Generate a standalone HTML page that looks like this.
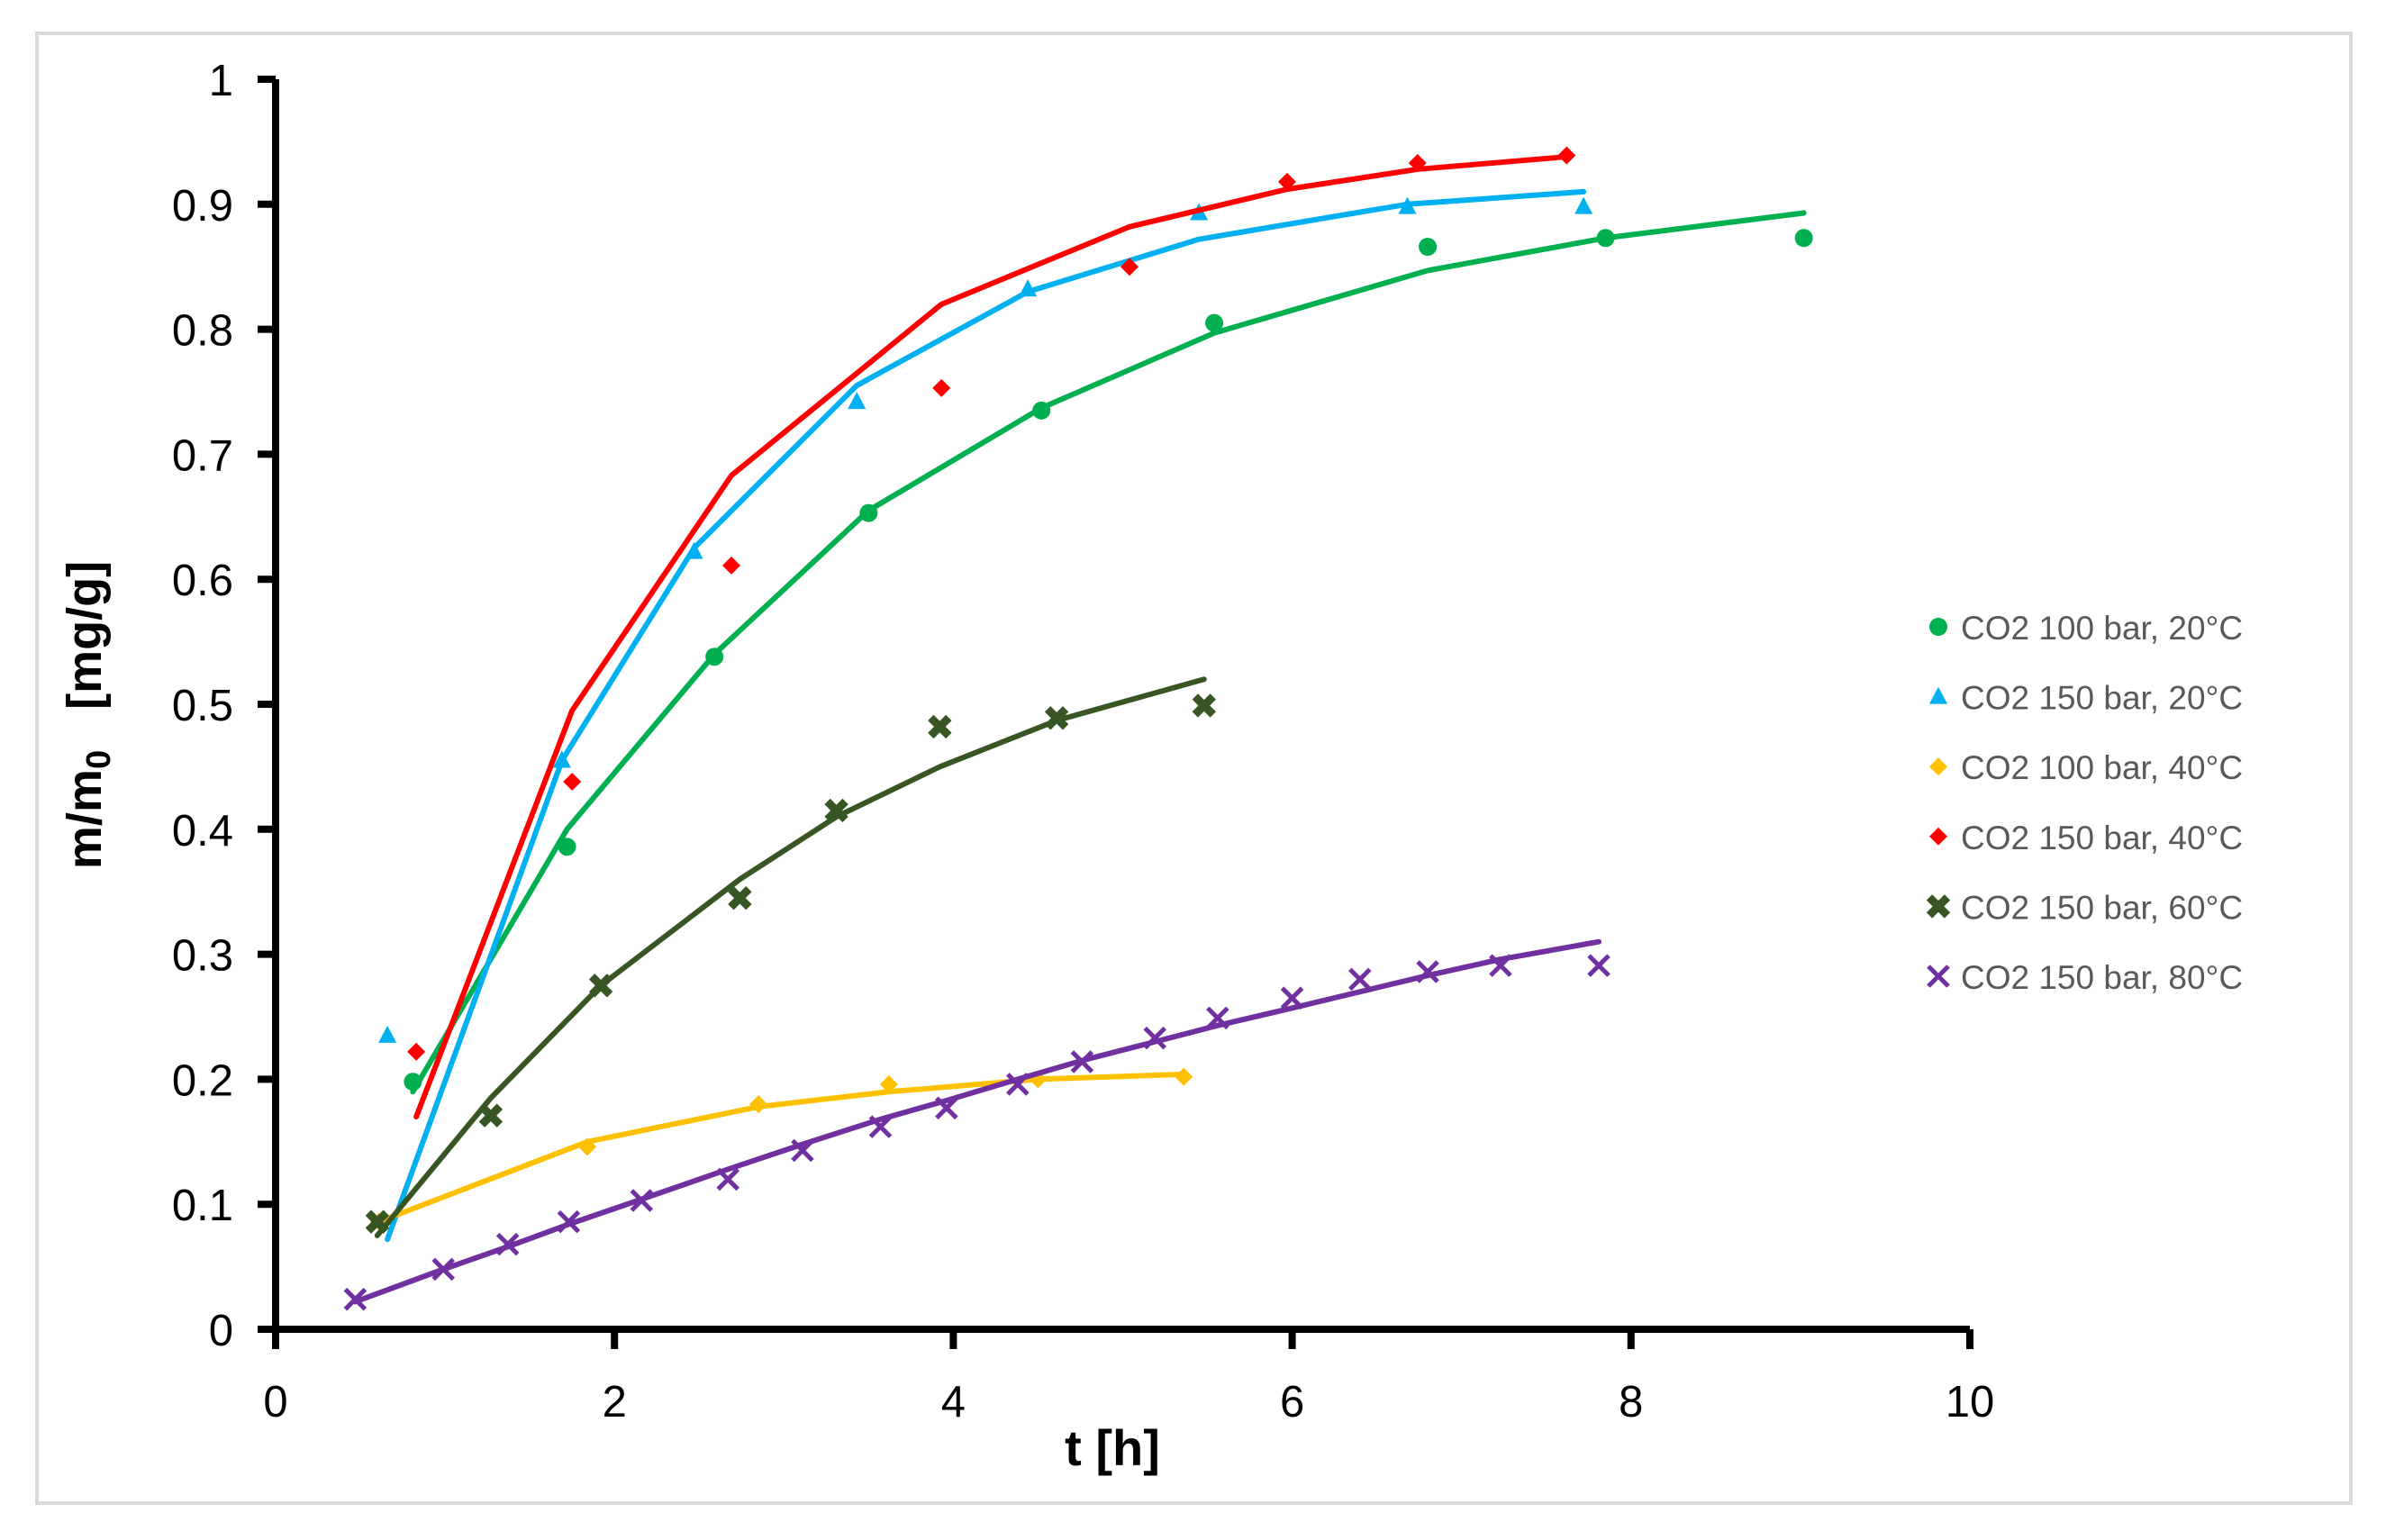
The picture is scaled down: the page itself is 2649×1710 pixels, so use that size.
<!DOCTYPE html>
<html><head><meta charset="utf-8"><style>
html,body{margin:0;padding:0;background:#fff;}
svg{display:block;}
</style></head><body>
<svg id="chart" width="2649" height="1710" xmlns="http://www.w3.org/2000/svg">
<rect x="41" y="37" width="2569" height="1632" fill="#fff" stroke="#d9d9d9" stroke-width="4"/>
<g id="series"></g>
<g id="axes"></g>
<g id="legend"></g>
<text x="112" y="794" transform="rotate(-90 112 794)" text-anchor="middle" font-family="Liberation Sans, sans-serif" font-weight="bold" font-size="54" fill="#000">m/m<tspan font-size="38" dy="10">0</tspan><tspan dy="-10" xml:space="preserve">   [mg/g]</tspan></text>
<text x="1235" y="1627" text-anchor="middle" font-family="Liberation Sans, sans-serif" font-weight="bold" font-size="56" fill="#000">t [h]</text>
</svg>
<script>
const xTicks = [0, 2, 4, 6, 8, 10];
const yTicks = [0, 0.1, 0.2, 0.3, 0.4, 0.5, 0.6, 0.7, 0.8, 0.9, 1];
const yTickLabels = ["0","0.1","0.2","0.3","0.4","0.5","0.6","0.7","0.8","0.9","1"];
const seriesNames = ["CO2 100 bar, 20°C","CO2 150 bar, 20°C","CO2 100 bar, 40°C","CO2 150 bar, 40°C","CO2 150 bar, 60°C","CO2 150 bar, 80°C"];

const g20t = [0.81,1.72,2.59,3.50,4.52,5.54,6.80,7.85,9.02];
const g20y = [0.198,0.386,0.538,0.653,0.735,0.805,0.866,0.873,0.873];
const g20fit = [0.19,0.40,0.54,0.655,0.737,0.797,0.847,0.873,0.893];

const b20t = [0.66,1.69,2.47,3.43,4.44,5.45,6.68,7.72];
const b20y = [0.235,0.455,0.622,0.742,0.832,0.893,0.898,0.898];
const b20fit = [0.072,0.455,0.625,0.755,0.83,0.872,0.90,0.91];

const y40t = [0.61,1.84,2.85,3.62,4.50,5.36];
const y40y = [0.086,0.146,0.18,0.196,0.2,0.202];
const y40fit = [0.086,0.15,0.178,0.19,0.2,0.204];

const r40t = [0.83,1.75,2.69,3.93,5.04,5.97,6.74,7.62];
const r40y = [0.222,0.438,0.611,0.753,0.850,0.918,0.933,0.939];
const r40fit = [0.17,0.495,0.683,0.82,0.882,0.912,0.928,0.938];

const d60t = [0.60,1.27,1.92,2.74,3.31,3.92,4.61,5.48];
const d60y = [0.086,0.171,0.275,0.345,0.415,0.482,0.489,0.499];
const d60fit = [0.075,0.185,0.275,0.36,0.41,0.45,0.487,0.52];

const p80t = [0.47,0.99,1.37,1.73,2.16,2.67,3.11,3.57,3.96,4.38,4.76,5.19,5.56,6.0,6.4,6.8,7.23,7.81];
const p80y = [0.024,0.048,0.068,0.086,0.103,0.12,0.143,0.162,0.177,0.196,0.214,0.233,0.249,0.265,0.28,0.286,0.291,0.291];
const p80fit = [0.022,0.048,0.066,0.084,0.104,0.128,0.148,0.168,0.183,0.200,0.215,0.23,0.243,0.257,0.27,0.283,0.296,0.31];

const X0=306, X1=2187, Y0=1476, Y1=88;
function sx(v){return X0+(X1-X0)*v/10;}
function sy(v){return Y0-(Y0-Y1)*v;}
const NS="http://www.w3.org/2000/svg";
function mk(tag, attrs, parent){const e=document.createElementNS(NS,tag);for(const k in attrs)e.setAttribute(k,attrs[k]);parent.appendChild(e);return e;}
const FONT="Liberation Sans, sans-serif";
const axes=document.getElementById('axes');
const series=document.getElementById('series');
const legend=document.getElementById('legend');

let ya=mk('line',{x1:X0,y1:Y1,x2:X0,y2:Y0+4,stroke:'#000','stroke-width':8},axes);


let xa=mk('line',{x1:X0-4,y1:Y0,x2:X1,y2:Y0,stroke:'#000','stroke-width':8},axes);


yTicks.forEach((v,i)=>{
  const t=mk('line',{x1:X0-20,y1:sy(v),x2:X0,y2:sy(v),stroke:'#000','stroke-width':8},axes);
  
  
  const l=mk('text',{x:X0-47,y:sy(v)+18,'text-anchor':'end','font-family':FONT,'font-size':49,fill:'#000'},axes);
  l.textContent=yTickLabels[i];
  
  
});
xTicks.forEach(v=>{
  const t=mk('line',{x1:sx(v),y1:Y0,x2:sx(v),y2:Y0+22,stroke:'#000','stroke-width':8},axes);
  
  
  const l=mk('text',{x:sx(v),y:Y0+97,'text-anchor':'middle','font-family':FONT,'font-size':49,fill:'#000'},axes);
  l.textContent=String(v);
  
  
});

function marker(kind,color,x,y,parent){
  let e;
  if(kind==='circle'){e=mk('circle',{cx:x,cy:y,r:10,fill:color},parent);}
  else if(kind==='tri'){e=mk('polygon',{points:`${x},${y-11} ${x+10},${y+8} ${x-10},${y+8}`,fill:color},parent);}
  else if(kind==='diamond'){e=mk('polygon',{points:`${x},${y-10} ${x+10},${y} ${x},${y+10} ${x-10},${y}`,fill:color},parent);}
  else if(kind==='bigx'){e=mk('path',{d:`M${x-10},${y-10}L${x+10},${y+10}M${x+10},${y-10}L${x-10},${y+10}`,stroke:color,'stroke-width':9},parent);}
  else {e=mk('path',{d:`M${x-11},${y-11}L${x+11},${y+11}M${x+11},${y-11}L${x-11},${y+11}`,stroke:color,'stroke-width':5},parent);}
  return e;
}
const defs=[
  {t:g20t,y:g20y,f:g20fit,c:'#00B050',m:'circle',n:'co2-100bar-20c'},
  {t:b20t,y:b20y,f:b20fit,c:'#00B0F0',m:'tri',n:'co2-150bar-20c'},
  {t:y40t,y:y40y,f:y40fit,c:'#FFC000',m:'diamond',n:'co2-100bar-40c'},
  {t:r40t,y:r40y,f:r40fit,c:'#FF0000',m:'diamond',n:'co2-150bar-40c'},
  {t:d60t,y:d60y,f:d60fit,c:'#375623',m:'bigx',n:'co2-150bar-60c'},
  {t:p80t,y:p80y,f:p80fit,c:'#7030A0',m:'x',n:'co2-150bar-80c'}
];
defs.forEach((d,si)=>{
  const g=mk('g',{},series);
  
  
  const pts=d.t.map((t,i)=>sx(t)+','+sy(d.f[i])).join(' ');
  const pl=mk('polyline',{points:pts,fill:'none',stroke:d.c,'stroke-width':6,'stroke-linejoin':'round','stroke-linecap':'round'},g);
  
  
  d.t.forEach((t,i)=>{
    const mm=marker(d.m,d.c,sx(t),sy(d.y[i]),g);
    
    
  });
  const ly=696+si*77.6;
  const lm=marker(d.m,d.c,2152,ly,legend);
  
  
  const lt=mk('text',{x:2177,y:ly+14,'font-family':FONT,'font-size':37,fill:'#595959'},legend);
  lt.textContent=seriesNames[si];
  
  
});
</script>
</body></html>
